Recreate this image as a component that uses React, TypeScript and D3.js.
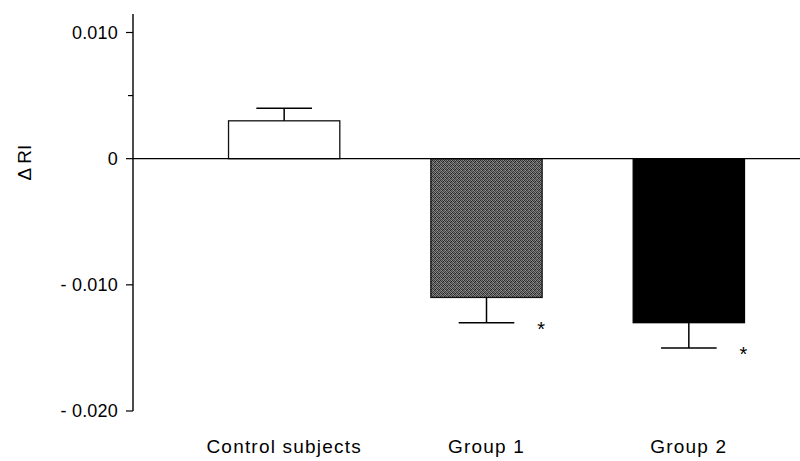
import React from 'react';
import * as d3 from 'd3';

const groups = ['Control subjects', 'Group 1', 'Group 2'];
const means = [0.003, -0.011, -0.013];
const errors = [0.001, 0.002, 0.002];
const fills = ['#ffffff', 'url(#stipple)', '#000000'];
const starred = [false, true, true];
const yTicks = [0.01, 0, -0.01, -0.02];
const yTickLabels = ['0.010', '0', '- 0.010', '- 0.020'];
const yMinorTicks = [0.005];

const W = 800;
const H = 461;

// grey levels for the stipple texture of Group 1
const stippleCells = [
  [0, 0, '#2a2a2a'], [1, 0, '#7a7a7a'], [2, 0, '#444'], [3, 0, '#909090'],
  [0, 1, '#8a8a8a'], [1, 1, '#333'], [2, 1, '#6e6e6e'], [3, 1, '#222'],
  [0, 2, '#505050'], [1, 2, '#999'], [2, 2, '#2e2e2e'], [3, 2, '#6a6a6a'],
  [0, 3, '#777'], [1, 3, '#3a3a3a'], [2, 3, '#858585'], [3, 3, '#484848'],
];

const App = () => {
  const y = d3.scaleLinear().domain([-0.02, 0.01]).range([411, 32.5]);
  const x = d3.scaleBand<string>().domain(groups).range([183, 790]).paddingInner(0.45).paddingOuter(0.225);
  const axisX = 133;

  return (
    <svg width={W} height={H} style={{ position: 'absolute', left: 0, top: 0, background: '#fff' }}
      fontFamily="'Liberation Sans', Arial, sans-serif">
      <defs>
        <pattern id="stipple" width={4} height={4} patternUnits="userSpaceOnUse">
          {stippleCells.map(([cx, cy, c], i) => (
            <rect key={i} x={cx as number} y={cy as number} width={1} height={1} fill={c as string} />
          ))}
        </pattern>
      </defs>

      {/* y axis */}
      <line x1={axisX} x2={axisX} y1={14} y2={y(-0.02)} stroke="#000" strokeWidth={1.4} />
      {yTicks.map((t, i) => (
        <g key={t}>
          <line x1={axisX - 7} x2={axisX} y1={y(t)} y2={y(t)} stroke="#000" strokeWidth={1.2} />
          <text x={axisX - 15} y={y(t)} dy="0.35em" textAnchor="end" fontSize={18} letterSpacing={0.2}>{yTickLabels[i]}</text>
        </g>
      ))}
      {yMinorTicks.map(t => (
        <line key={t} x1={axisX - 5} x2={axisX} y1={y(t)} y2={y(t)} stroke="#000" strokeWidth={1.2} />
      ))}
      <text transform={`translate(31, ${y(0) + 4}) rotate(-90)`} textAnchor="middle" fontSize={19}>Δ RI</text>

      {/* bars */}
      {groups.map((g, i) => {
        const x0 = x(g)!;
        const bw = x.bandwidth();
        const cx = x0 + bw / 2;
        const v = means[i];
        const tip = v >= 0 ? v + errors[i] : v - errors[i];
        const capHalf = bw * 0.25;
        return (
          <g key={g}>
            <rect x={x0} y={y(Math.max(0, v))} width={bw} height={Math.abs(y(v) - y(0))}
              fill={fills[i]} stroke={i === 2 ? '#000' : '#111'} strokeWidth={1.3} />
            <line x1={cx} x2={cx} y1={y(v)} y2={y(tip)} stroke="#000" strokeWidth={1.5} />
            <line x1={cx - capHalf} x2={cx + capHalf} y1={y(tip)} y2={y(tip)} stroke="#000" strokeWidth={1.5} />
            {starred[i] && (
              <text x={x0 + bw - 1} y={y(tip) + 13} textAnchor="middle" fontSize={20}>*</text>
            )}
            <text x={cx} y={453} textAnchor="middle" fontSize={19} letterSpacing={1.2}>{g}</text>
          </g>
        );
      })}

      {/* zero line */}
      <line x1={axisX} x2={W} y1={y(0)} y2={y(0)} stroke="#000" strokeWidth={1.4} />
    </svg>
  );
};

export default App;
